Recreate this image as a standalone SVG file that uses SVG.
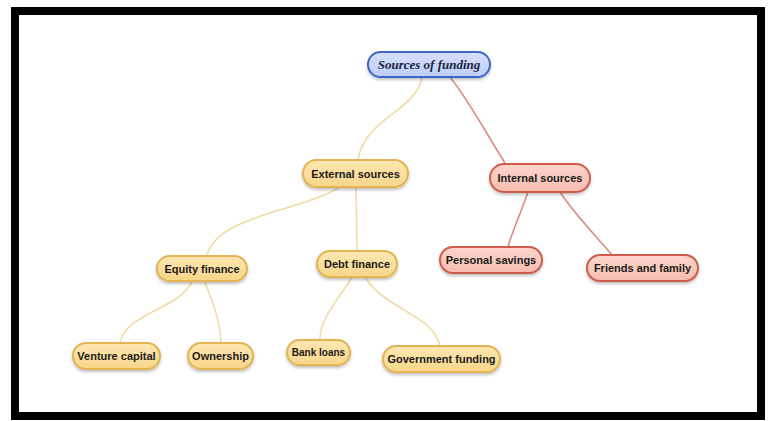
<svg xmlns="http://www.w3.org/2000/svg" width="770" height="421" viewBox="0 0 770 421">
<defs>
<linearGradient id="gOr" x1="0" y1="0" x2="0" y2="1"><stop offset="0" stop-color="#fde7b3"/><stop offset="1" stop-color="#f8d68a"/></linearGradient>
<linearGradient id="gRd" x1="0" y1="0" x2="0" y2="1"><stop offset="0" stop-color="#fbd6cc"/><stop offset="1" stop-color="#f6bcae"/></linearGradient>
<linearGradient id="gBl" x1="0" y1="0" x2="0" y2="1"><stop offset="0" stop-color="#d6e0fb"/><stop offset="1" stop-color="#bccdf6"/></linearGradient>
<filter id="sh" x="-20%" y="-30%" width="140%" height="170%"><feDropShadow dx="0" dy="2" stdDeviation="1.5" flood-color="#000" flood-opacity="0.25"/></filter>
</defs>
<style>
.or{fill:url(#gOr);stroke:#e2b452;stroke-width:2;filter:url(#sh)}
.rd{fill:url(#gRd);stroke:#cf5b4c;stroke-width:2;filter:url(#sh)}
.bl{fill:url(#gBl);stroke:#3d66c9;stroke-width:2;filter:url(#sh)}
text{font-family:"Liberation Sans",Arial,sans-serif;font-weight:bold;font-size:11px;fill:#1a1a1a;text-anchor:middle;dominant-baseline:central}
.title{font-family:"Liberation Serif","Times New Roman",serif;font-style:italic;font-size:13px;fill:#1c2340}
.cy{fill:none;stroke:#efdca0;stroke-width:1.6}
.cr{fill:none;stroke:#dc8c82;stroke-width:1.6}
</style>
<rect x="0" y="0" width="770" height="421" fill="#fff"/>
<rect x="15" y="11" width="746" height="405" fill="none" stroke="#000" stroke-width="8"/>
<g id="connectors">
<path class="cy" d="M422,77 C416,112 364,118 358,160"/>
<path class="cr" d="M450,77 C470,102 490,140 505,163"/>
<path class="cy" d="M340,187 C300,212 218,215 207,255"/>
<path class="cy" d="M356,187 L357,250"/>
<path class="cy" d="M193,280 C180,310 126,312 120,343"/>
<path class="cy" d="M204,280 C212,300 220,320 221,343"/>
<path class="cy" d="M352,277 C338,300 320,318 320,340"/>
<path class="cy" d="M365,277 C385,310 435,315 440,347"/>
<path class="cr" d="M528,192 C520,215 512,232 508,247"/>
<path class="cr" d="M560,192 C575,215 598,238 612,255"/>
</g>
<g id="n-sources"><rect class="bl" x="368" y="52" width="122" height="25" rx="12.5"/><text class="title" x="429" y="64.5" font-weight="bold">Sources of funding</text></g>
<g id="n-external"><rect class="or" x="303" y="160" width="105" height="27" rx="13.5"/><text x="355.5" y="173.5">External sources</text></g>
<g id="n-internal"><rect class="rd" x="490" y="164" width="100" height="28" rx="14"/><text x="540" y="178">Internal sources</text></g>
<g id="n-equity"><rect class="or" x="157" y="256" width="90" height="25" rx="12.5"/><text x="202" y="268.5">Equity finance</text></g>
<g id="n-debt"><rect class="or" x="317" y="251" width="80" height="26" rx="13"/><text x="357" y="264">Debt finance</text></g>
<g id="n-personal"><rect class="rd" x="440" y="247" width="102" height="26" rx="13"/><text x="491" y="260">Personal savings</text></g>
<g id="n-friends"><rect class="rd" x="587" y="255" width="111" height="26" rx="13"/><text x="642.5" y="268">Friends and family</text></g>
<g id="n-venture"><rect class="or" x="73" y="343" width="87" height="26" rx="13"/><text x="116.5" y="356">Venture capital</text></g>
<g id="n-ownership"><rect class="or" x="188" y="343" width="65" height="26" rx="13"/><text x="220.5" y="356">Ownership</text></g>
<g id="n-bank"><rect class="or" x="287" y="340" width="63" height="25" rx="12.5"/><text x="318.5" y="352.5" style="font-size:10px">Bank loans</text></g>
<g id="n-gov"><rect class="or" x="383" y="346" width="117" height="26" rx="13"/><text x="441.5" y="359">Government funding</text></g>
</svg>
